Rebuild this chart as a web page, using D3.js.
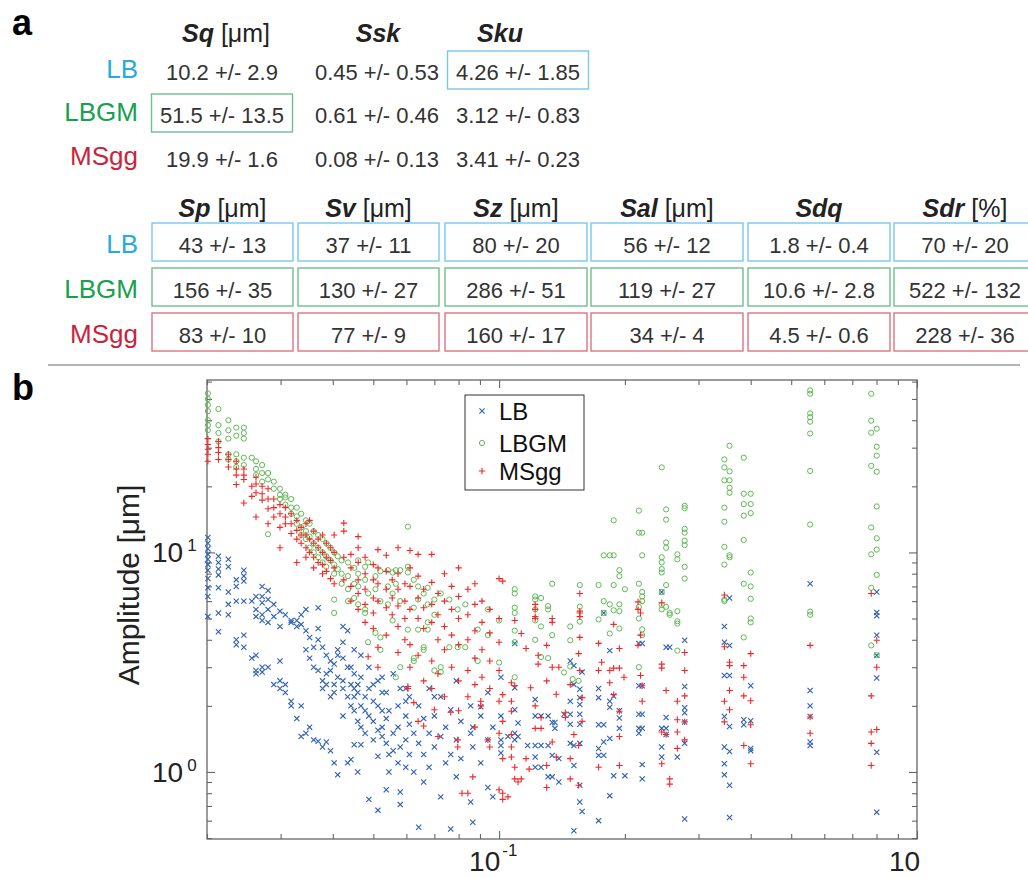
<!DOCTYPE html>
<html>
<head>
<meta charset="utf-8">
<script src="https://cdn.jsdelivr.net/npm/d3@7"></script>
<style>
body { margin: 0; background: #fff; }
text { font-family: "Liberation Sans", Arial, Helvetica, sans-serif; }
</style>
</head>
<body>
<svg id="fig" width="1028" height="878"></svg>
<script>
// ---- panel a : table values ----
var groups = ["LB", "LBGM", "MSgg"];
var topHeads = [["Sq", " [μm]"], ["Ssk", ""], ["Sku", ""]];
var topVals = [
    ["10.2 +/- 2.9", "0.45 +/- 0.53", "4.26 +/- 1.85"],
    ["51.5 +/- 13.5", "0.61 +/- 0.46", "3.12 +/- 0.83"],
    ["19.9 +/- 1.6", "0.08 +/- 0.13", "3.41 +/- 0.23"]
];
var topBoxed = [[0, 0, 1], [1, 0, 0], [0, 0, 0]];
var botHeads = [["Sp", " [μm]"], ["Sv", " [μm]"], ["Sz", " [μm]"], ["Sal", " [μm]"], ["Sdq", ""], ["Sdr", " [%]"]];
var botVals = [
    ["43 +/- 13", "37 +/- 11", "80 +/- 20", "56 +/- 12", "1.8 +/- 0.4", "70 +/- 20"],
    ["156 +/- 35", "130 +/- 27", "286 +/- 51", "119 +/- 27", "10.6 +/- 2.8", "522 +/- 132"],
    ["83 +/- 10", "77 +/- 9", "160 +/- 17", "34 +/- 4", "4.5 +/- 0.6", "228 +/- 36"]
];

// ---- panel b : amplitude spectra, [frequency, [amplitudes...]] ----
var lbCols = [
    [0.0201, [11.7, 11.0, 10.4, 9.8, 9.3, 8.8, 8.3, 7.6, 6.9, 6.3, 5.1]],
    [0.0213, [9.6, 9.0, 8.4, 7.9, 6.9, 5.3, 4.35]],
    [0.0225, [9.3, 8.6, 6.6, 5.8, 5.2]],
    [0.0235, [7.5, 7.0, 6.0, 4.0, 3.8]],
    [0.0245, [8.3, 7.8, 7.4, 6.0, 4.2, 3.7]],
    [0.0256, [6.0, 3.3]],
    [0.0262, [6.3, 5.5, 5.1, 3.4, 2.9, 2.8]],
    [0.0271, [7.0, 6.3, 5.9, 5.2, 4.9, 3.0, 2.85]],
    [0.0280, [6.7, 6.1, 5.5, 4.8, 3.0]],
    [0.0289, [5.8, 5.1, 2.5]],
    [0.0299, [5.4, 4.6, 3.2, 2.6, 2.4]],
    [0.0308, [5.2, 2.5, 2.3]],
    [0.0318, [4.9, 4.8, 2.1, 2.0]],
    [0.0328, [4.9, 4.6, 1.75]],
    [0.0336, [5.2, 4.7, 2.0, 1.45]],
    [0.0345, [5.5, 4.4, 3.6, 1.5]],
    [0.0352, [4.1, 3.3, 1.6]],
    [0.0360, [3.7, 3.0, 1.4]],
    [0.0369, [5.6, 4.5, 4.0, 2.9, 1.38]],
    [0.0378, [3.7, 2.6, 2.4, 1.3]],
    [0.0386, [3.4, 2.8, 2.5, 1.37]],
    [0.0395, [3.2, 2.9, 2.2, 1.25]],
    [0.0403, [3.1, 2.5, 2.3, 1.1]],
    [0.0411, [3.6, 3.4, 2.7, 0.97]],
    [0.0423, [4.6, 3.9, 3.3, 2.6, 2.4, 1.8]],
    [0.0434, [4.4, 3.0, 2.2, 1.1]],
    [0.0442, [3.0, 2.5, 2.0, 1.14]],
    [0.0450, [3.6, 2.8, 2.4, 2.2, 1.9, 1.33]],
    [0.0459, [2.5, 2.3, 1.7, 1.0]],
    [0.0467, [3.4, 2.7, 2.0, 1.6, 1.33]],
    [0.0478, [2.2, 1.9, 1.5]],
    [0.0488, [3.0, 2.4, 1.8, 0.75]],
    [0.0500, [2.5, 2.1, 1.7, 1.4]],
    [0.0513, [2.6, 2.0, 1.55, 1.18, 0.67]],
    [0.0525, [2.7, 2.3, 1.9, 1.6, 1.45]],
    [0.0537, [2.3, 1.75, 1.35, 0.83]],
    [0.0545, [1.9, 1.2, 1.0]],
    [0.0558, [2.8, 1.5, 1.25]],
    [0.0573, [2.0, 1.6, 1.1]],
    [0.0580, [2.4, 1.3, 0.81, 0.71]],
    [0.0598, [2.4, 2.1, 1.8, 1.4, 1.05]],
    [0.0610, [2.2, 1.65, 1.2]],
    [0.0625, [1.5, 1.0]],
    [0.0642, [2.0, 1.35, 0.56]],
    [0.0660, [1.75, 1.2, 0.9]],
    [0.0680, [2.4, 1.5, 1.05]],
    [0.0700, [2.2, 1.8, 1.3]],
    [0.0725, [2.2, 1.45, 0.77]],
    [0.0745, [1.6, 1.1]],
    [0.0766, [1.92, 1.2, 0.55]],
    [0.0790, [2.6, 1.4, 0.95]],
    [0.0810, [1.7, 1.15]],
    [0.0855, [2.0, 1.5, 0.73]],
    [0.0865, [1.6, 1.3, 0.59]],
    [0.0904, [1.98, 1.8, 1.1]],
    [0.0940, [2.3, 1.4, 0.85]],
    [0.0966, [1.6, 0.77]],
    [0.1010, [2.7, 1.8, 1.4, 1.32, 1.22]],
    [0.1050, [1.45]],
    [0.1090, [3.85, 2.42, 1.92, 1.5, 1.40]],
    [0.1110, [1.67, 1.45]],
    [0.1170, [1.32]],
    [0.1220, [2.14, 1.8, 1.32, 1.17, 1.05]],
    [0.1260, [1.8, 1.32, 1.05]],
    [0.1310, [1.8, 1.32, 0.95]],
    [0.1340, [1.68, 1.19, 0.95]],
    [0.1360, [1.68, 1.58]],
    [0.1390, [1.15, 0.90]],
    [0.1430, [1.83]],
    [0.1480, [3.2, 2.1, 1.83, 1.65, 1.35]],
    [0.1510, [3.05, 2.5, 1.32, 1.07, 0.54]],
    [0.1560, [2.38, 2.18, 2.03, 1.83, 1.65, 1.35, 0.87, 0.73]],
    [0.1580, [2.85, 0.66]],
    [0.1730, [2.4, 2.18, 1.64, 1.28, 1.19, 0.60]],
    [0.1780, [5.3, 1.64, 1.37, 1.19]],
    [0.1840, [3.57, 2.1, 1.97, 1.42, 0.78]],
    [0.1880, [2.22, 0.96]],
    [0.1940, [1.9, 1.76, 1.58]],
    [0.2000, [0.96]],
    [0.2160, [3.85, 2.47, 1.83, 1.58, 1.50]],
    [0.2200, [3.85, 2.47, 1.83, 1.58, 1.08, 0.93]],
    [0.2450, [6.6, 1.58, 1.30, 1.17]],
    [0.2510, [3.7, 1.77, 1.58, 1.48]],
    [0.2560, [3.7]],
    [0.2670, [1.17]],
    [0.2780, [3.98, 2.45, 1.96, 1.86, 1.69, 1.35, 0.61]],
    [0.3460, [4.6, 3.9, 2.75, 1.79, 1.30, 1.09, 0.97]],
    [0.3560, [6.2, 3.77, 2.75, 1.61, 1.24, 0.87, 0.62]],
    [0.3850, [1.73, 1.64]],
    [0.4000, [2.47, 1.71, 1.28, 1.25]],
    [0.5550, [7.2, 2.35, 2.0, 1.79, 1.37, 1.32]],
    [0.8010, [6.6, 5.33, 5.15, 4.2, 3.4, 2.68, 1.23, 0.656]]
];
var lbgmCols = [
    [0.0201, [53, 50, 47, 44, 40, 38, 36]],
    [0.0213, [45, 38, 35, 32]],
    [0.0225, [40, 36, 33, 28, 26.5]],
    [0.0235, [37, 34, 28, 26, 24.5]],
    [0.0245, [37, 35, 33, 27, 25]],
    [0.0256, [27]],
    [0.0262, [26, 24, 22.5]],
    [0.0271, [25, 23, 21]],
    [0.0280, [23, 21.5, 12.1]],
    [0.0289, [21, 19.5]],
    [0.0299, [19.5, 18.3, 17.5]],
    [0.0308, [18.3, 17.8, 16.5]],
    [0.0318, [17.5, 16, 15]],
    [0.0328, [16, 14.6, 13.5]],
    [0.0336, [15, 13, 12]],
    [0.0345, [14, 12.5, 11.5]],
    [0.0352, [13.5, 11.8, 10.5]],
    [0.0360, [12.5, 11, 10]],
    [0.0369, [12, 10.5, 9.5]],
    [0.0378, [11.5, 10, 9.0]],
    [0.0386, [11, 9.6, 8.6]],
    [0.0395, [10.5, 9.2]],
    [0.0403, [10, 8.8, 8.0, 6.1, 5.3]],
    [0.0411, [9.6, 8.4]],
    [0.0420, [9.2, 8.0, 7.2]],
    [0.0435, [9.0, 7.8, 6.8, 6.0]],
    [0.0450, [8.5, 7.2, 6.2]],
    [0.0460, [9.2, 8.0, 7.0, 5.8]],
    [0.0478, [8.6, 7.5, 5.5, 5.3]],
    [0.0486, [9.0, 6.5, 3.9]],
    [0.0506, [7.8, 6.8, 4.3]],
    [0.0520, [8.2, 6.0, 4.1, 3.6]],
    [0.0542, [8.3, 7.0, 5.8]],
    [0.0556, [8.1, 6.5, 4.9]],
    [0.0566, [8.3, 7.2, 2.7]],
    [0.0580, [8.3, 6.0, 3.0]],
    [0.0605, [13.1, 8.6, 8.1, 4.45]],
    [0.0625, [7.5, 5.6, 3.3, 3.2]],
    [0.0640, [7.0, 6.1, 4.45]],
    [0.0660, [6.5, 3.7, 3.6]],
    [0.0675, [6.9, 5.8, 4.8, 4.45]],
    [0.0700, [6.1, 5.2, 2.9]],
    [0.0725, [6.5, 3.0, 2.85]],
    [0.0760, [6.1, 3.7]],
    [0.0796, [5.5, 3.7]],
    [0.0830, [5.8, 3.7]],
    [0.0889, [4.45, 3.2]],
    [0.0940, [5.5, 4.2]],
    [0.1000, [4.9, 3.15]],
    [0.1090, [6.8, 6.5, 5.6, 5.3, 4.4, 3.9, 2.7]],
    [0.1220, [6.3, 6.1, 5.5, 4.9, 4.0]],
    [0.1260, [6.2, 4.6, 3.34]],
    [0.1310, [5.7, 5.5, 3.3]],
    [0.1340, [7.2, 4.2]],
    [0.1430, [2.84]],
    [0.1480, [4.6, 3.98, 3.02]],
    [0.1500, [2.65]],
    [0.1550, [2.6]],
    [0.1560, [7.1, 5.66, 4.84]],
    [0.1730, [7.1, 4.95]],
    [0.1780, [9.7, 6.0, 5.3]],
    [0.1840, [9.7, 5.8, 4.27]],
    [0.1880, [14.0, 9.7, 7.1, 5.45]],
    [0.1940, [8.3, 7.8, 5.8, 5.4, 4.5]],
    [0.2000, [6.8]],
    [0.2160, [15.5, 12.3, 7.2, 5.65, 5.0, 3.0]],
    [0.2200, [12.3, 9.7, 6.6, 6.3, 6.0, 4.46, 4.2]],
    [0.2450, [24.4, 9.5, 9.0, 8.4, 8.1, 6.6, 5.77, 5.5]],
    [0.2510, [15.7, 14.1, 11.1, 10.5, 7.1, 5.65]],
    [0.2560, [5.3, 5.2]],
    [0.2670, [9.8, 9.3, 5.4, 4.86, 4.74, 3.57]],
    [0.2780, [16.3, 15.9, 12.8, 12.3, 11.3, 10.8, 8.6, 7.6]],
    [0.3460, [26.5, 24.4, 21.3, 16, 13.8, 10.6, 8.8, 6.1, 6.0]],
    [0.3560, [30.6, 23.4, 21.3, 19.7, 18.7, 9.7, 9.5]],
    [0.3850, [27, 18.5, 16.6, 14.7, 11.4, 7.2, 4.1]],
    [0.4000, [18.5, 16.6, 15.1, 8.1, 7.0, 6.15, 5.0, 4.8]],
    [0.5550, [54.7, 52.8, 43, 41.3, 39.4, 34.8, 23.5, 13.4, 5.37, 5.2]],
    [0.7770, [52.8, 39.8, 35.1, 24.8, 13, 9.8, 6.9, 3.77]],
    [0.8010, [36.6, 30.3, 27.6, 23.3, 16.2, 11.6, 10.3, 7.9, 3.4]]
];
var msggCols = [
    [0.0201, [33, 31, 29.5, 28, 26]],
    [0.0213, [32, 30, 28.5, 26.5]],
    [0.0225, [28, 26.5, 24.5]],
    [0.0235, [26, 24, 22.5, 20.4]],
    [0.0245, [24, 22.5, 21.5, 16.8]],
    [0.0256, [20, 18]],
    [0.0262, [22, 20.5, 18.7, 14.5]],
    [0.0271, [20, 18.5, 17.3]],
    [0.0280, [19.5, 17.5, 15.8, 13.5]],
    [0.0289, [17.5, 16, 14.5]],
    [0.0299, [16.5, 15, 13, 10.5]],
    [0.0308, [16, 14.5, 13.5]],
    [0.0318, [15, 13.5, 12.2]],
    [0.0328, [14, 12.6, 11.5, 9.0]],
    [0.0336, [13, 12, 11]],
    [0.0345, [13.5, 12, 10.5, 9.5]],
    [0.0352, [14, 11.5, 10]],
    [0.0360, [12.5, 11, 9.5, 8.5]],
    [0.0369, [11.5, 10.5, 9]],
    [0.0378, [12, 10, 8.8, 8.0]],
    [0.0386, [11, 9.5, 8.2]],
    [0.0395, [10.5, 9.2, 7.6]],
    [0.0403, [12, 10, 8.5, 7.2]],
    [0.0425, [13.6, 12.5, 9.5, 7.5]],
    [0.0442, [9.8, 8.5, 7.0, 6.0]],
    [0.0460, [11.8, 10.5, 9, 7.5, 6.5, 5.5]],
    [0.0478, [9.5, 8, 6.8, 5.8, 4.8]],
    [0.0486, [3.35]],
    [0.0500, [8.8, 7.5, 6.2, 5.3, 4.5]],
    [0.0513, [10.3, 8.5, 7.2, 6.0, 3.7, 3.0]],
    [0.0537, [9.7, 8.2, 6.8, 5.6, 4.2]],
    [0.0555, [7.5, 6.2, 5.2]],
    [0.0573, [10.5, 8.0, 6.8, 5.7, 4.6, 3.5]],
    [0.0595, [7.2, 6.0, 5.0, 4.0]],
    [0.0605, [2.45, 2.4]],
    [0.0612, [10.2, 8.5, 7.0, 5.5, 3.8, 3.0]],
    [0.0625, [2.07]],
    [0.0640, [9.8, 7.8, 6.2, 5.0, 3.4, 1.7]],
    [0.0660, [6.8, 5.6, 4.5, 2.6, 1.62]],
    [0.0690, [9.8, 7.3, 5.8, 4.8, 3.2, 2.4]],
    [0.0700, [1.92]],
    [0.0714, [6.5, 5.2, 4.0, 2.8, 1.45]],
    [0.0740, [8.0, 6.0, 4.6, 3.6, 2.2]],
    [0.0766, [1.87]],
    [0.0770, [7.0, 5.5, 4.2, 3.0]],
    [0.0796, [1.4, 1.3]],
    [0.0800, [8.5, 6.3, 5.0, 3.8, 2.6, 1.9]],
    [0.0815, [0.80]],
    [0.0842, [6.8, 5.2, 4.0, 2.9, 2.2, 0.80]],
    [0.0865, [0.95]],
    [0.0875, [7.2, 5.8, 4.4, 3.3, 2.5, 1.6]],
    [0.0904, [2.1, 2.0]],
    [0.0910, [6.0, 4.8, 3.6, 2.7]],
    [0.0940, [1.4]],
    [0.0950, [5.5, 4.3, 3.2, 2.4, 1.3]],
    [0.1000, [7.6, 5.0, 3.9, 2.9, 2.1, 1.5, 0.83]],
    [0.1020, [7.4, 2.25, 1.7, 1.15, 0.8, 0.75]],
    [0.1050, [0.77]],
    [0.1070, [2.55, 2.1, 1.89, 1.48, 1.30, 1.17]],
    [0.1090, [4.9, 2.47, 1.05, 0.93]],
    [0.1110, [0.90]],
    [0.1130, [4.27, 0.93]],
    [0.1160, [3.65, 1.15]],
    [0.1180, [1.03]],
    [0.1190, [2.42]],
    [0.1220, [5.8, 5.5, 5.1, 5.0, 2.0, 1.58]],
    [0.1240, [3.4, 3.1]],
    [0.1260, [1.77, 1.58]],
    [0.1300, [3.77, 2.6, 1.07, 0.85]],
    [0.1340, [5.0, 4.8, 3.0, 1.37]],
    [0.1370, [2.26, 1.17]],
    [0.1390, [3.0]],
    [0.1440, [1.86, 1.77]],
    [0.1480, [2.5, 1.15, 0.93]],
    [0.1510, [1.48]],
    [0.1550, [3.46, 1.32, 0.87]],
    [0.1560, [6.5, 5.4, 5.3, 5.1, 4.1, 2.9]],
    [0.1580, [2.18, 1.70]],
    [0.1730, [3.85, 2.9, 1.05]],
    [0.1760, [3.16]],
    [0.1840, [2.9, 2.55]],
    [0.1880, [4.7, 2.97, 2.25]],
    [0.1940, [3.65, 2.97, 1.89, 1.45, 1.07]],
    [0.1990, [2.7]],
    [0.2150, [5.95, 5.5, 3.77]],
    [0.2180, [5.3, 4.2, 2.75]],
    [0.2200, [2.47, 2.1]],
    [0.2450, [5.9, 3.1, 2.97, 1.52, 1.09]],
    [0.2510, [2.35, 1.48]],
    [0.2560, [0.93, 0.88]],
    [0.2670, [2.1, 1.73, 1.52, 1.28]],
    [0.2780, [3.5, 2.9, 2.22, 1.69, 1.40]],
    [0.3460, [6.4, 3.72, 2.1, 1.69]],
    [0.3560, [3.16, 3.05, 2.35, 1.92]],
    [0.3850, [3.05, 2.7, 2.22, 1.32]],
    [0.4000, [3.46, 2.11, 1.64, 1.09]],
    [0.5550, [3.77, 1.78, 1.50]],
    [0.7770, [6.5, 2.22, 1.52, 1.35, 1.07]],
    [0.8010, [3.98, 3.0, 1.56]]
];
var xMajor = [0.1, 1];
var xMinor = [0.02, 0.03, 0.04, 0.05, 0.06, 0.07, 0.08, 0.09, 0.2, 0.3, 0.4, 0.5, 0.6, 0.7, 0.8, 0.9];
var yMajor = [1, 10];
var yMinor = [0.5, 0.6, 0.7, 0.8, 0.9, 2, 3, 4, 5, 6, 7, 8, 9, 20, 30, 40, 50, 60];
var xLabels = [["10", "-1"], ["10", ""]];
var yLabels = [["10", "0"], ["10", "1"]];

var labelColors = ["#27a9e1", "#17a04e", "#c8243c"];
var boxColors = ["#78c8ec", "#6fbe8e", "#dc7480"];
var txt = "#333";

var svg = d3.select("#fig");
svg.append("rect").attr("width", 1028).attr("height", 878).attr("fill", "#fff");

// panel letters
svg.append("text").attr("x", 12).attr("y", 35).attr("font-size", 36).attr("font-weight", "bold").text("a");
svg.append("text").attr("x", 12).attr("y", 400).attr("font-size", 36).attr("font-weight", "bold").text("b");

function header(g, x, y, h) {
    var t = g.append("text").attr("x", x).attr("y", y).attr("text-anchor", "middle")
        .attr("font-size", 25).attr("fill", "#222");
    t.append("tspan").attr("font-weight", "bold").attr("font-style", "italic").text(h[0]);
    if (h[1]) t.append("tspan").text(h[1]);
}

// ---- top table ----
var topT = svg.append("g");
var topColX = [222, 377, 518], topHeadX = [226, 378, 500];
var topRowY = [80, 123, 167];
topHeads.forEach(function (h, j) { header(topT, topHeadX[j], 42, h); });
groups.forEach(function (gname, i) {
    topT.append("text").attr("x", 138).attr("y", topRowY[i] - 2).attr("text-anchor", "end")
        .attr("font-size", 26).attr("fill", labelColors[i]).text(gname);
    topVals[i].forEach(function (v, j) {
        if (topBoxed[i][j]) {
            topT.append("rect").attr("x", topColX[j] - 70.5).attr("y", topRowY[i] - 29)
                .attr("width", 141).attr("height", 38).attr("fill", "none")
                .attr("stroke", boxColors[i]).attr("stroke-width", 1.4);
        }
        topT.append("text").attr("x", topColX[j]).attr("y", topRowY[i]).attr("text-anchor", "middle")
            .attr("font-size", 22).attr("fill", txt).text(v);
    });
});

// ---- bottom table ----
var botT = svg.append("g");
var boxL = [152, 298, 445, 591, 748, 894], boxW = [141, 141, 142, 152, 142, 142];
var rowTop = [223, 268, 313];
botHeads.forEach(function (h, j) { header(botT, boxL[j] + boxW[j] / 2, 217, h); });
groups.forEach(function (gname, i) {
    botT.append("text").attr("x", 138).attr("y", rowTop[i] + 30).attr("text-anchor", "end")
        .attr("font-size", 26).attr("fill", labelColors[i]).text(gname);
    botVals[i].forEach(function (v, j) {
        botT.append("rect").attr("x", boxL[j]).attr("y", rowTop[i])
            .attr("width", boxW[j]).attr("height", 38).attr("fill", "none")
            .attr("stroke", boxColors[i]).attr("stroke-width", 1.4);
        botT.append("text").attr("x", boxL[j] + boxW[j] / 2).attr("y", rowTop[i] + 30)
            .attr("text-anchor", "middle").attr("font-size", 22).attr("fill", txt).text(v);
    });
});

svg.append("line").attr("x1", 48).attr("x2", 1020).attr("y1", 365).attr("y2", 365)
    .attr("stroke", "#9a9a9a").attr("stroke-width", 1.5);

// ---- panel b ----
var x = d3.scaleLog().domain([0.02, 1]).range([207, 917]);
var y = d3.scaleLog().domain([0.495, 61]).range([839, 380]);
var plot = svg.append("g");

function tickAxis(axis, vals, size, tr) {
    var g = plot.append("g").attr("transform", tr)
        .call(axis.tickValues(vals).tickSize(-size).tickFormat(""));
    g.select(".domain").remove();
    g.selectAll("line").attr("stroke", "#666").attr("stroke-width", 1.1);
}
tickAxis(d3.axisBottom(x), xMajor, 8, "translate(0,839)");
tickAxis(d3.axisBottom(x), xMinor, 5, "translate(0,839)");
tickAxis(d3.axisTop(x), xMajor, 8, "translate(0,380)");
tickAxis(d3.axisTop(x), xMinor, 5, "translate(0,380)");
tickAxis(d3.axisLeft(y), yMajor, 8, "translate(207,0)");
tickAxis(d3.axisLeft(y), yMinor, 5, "translate(207,0)");
tickAxis(d3.axisRight(y), yMajor, 8, "translate(917,0)");
tickAxis(d3.axisRight(y), yMinor, 5, "translate(917,0)");

plot.append("rect").attr("x", 207).attr("y", 380).attr("width", 710).attr("height", 459)
    .attr("fill", "none").attr("stroke", "#666").attr("stroke-width", 1.3);

// tick labels 10^n
yMajor.forEach(function (v, i) {
    var t = plot.append("text").attr("x", 152).attr("y", y(v) + 10).attr("font-size", 28).attr("fill", "#222");
    t.append("tspan").text(yLabels[i][0]);
    t.append("tspan").attr("dx", 4).attr("dy", -11).attr("font-size", 17).text(yLabels[i][1]);
});
xMajor.forEach(function (v, i) {
    var t = plot.append("text").attr("x", x(v) - (i === 0 ? 30 : 28)).attr("y", 871)
        .attr("font-size", 28).attr("fill", "#222");
    t.append("tspan").text(xLabels[i][0]);
    if (xLabels[i][1]) t.append("tspan").attr("dx", 2).attr("dy", -15).attr("font-size", 17).text(xLabels[i][1]);
});
plot.append("text").attr("transform", "translate(139,585) rotate(-90)").attr("text-anchor", "middle")
    .attr("font-size", 30).attr("fill", "#222").text("Amplitude [μm]");

// markers
var markX = "M-2.6,-2.6L2.6,2.6M-2.6,2.6L2.6,-2.6";
var markP = "M-3.2,0L3.2,0M0,-3.2L0,3.2";
function pts(cols) {
    return cols.flatMap(function (c) { return c[1].map(function (v) { return [c[0], v]; }); });
}
var series = [
    { name: "LB", pts: pts(lbCols), color: "#2e5fb4", kind: "x" },
    { name: "LBGM", pts: pts(lbgmCols), color: "#5fba55", kind: "o" },
    { name: "MSgg", pts: pts(msggCols), color: "#f02828", kind: "+" }
];
function drawMark(sel, s) {
    if (s.kind === "o") {
        sel.append("circle").attr("r", 2.6).attr("fill", "none").attr("stroke", s.color).attr("stroke-width", 1);
    } else {
        sel.append("path").attr("d", s.kind === "x" ? markX : markP).attr("fill", "none")
            .attr("stroke", s.color).attr("stroke-width", 1.1);
    }
}
series.forEach(function (s) {
    plot.append("g").selectAll("g").data(s.pts).enter().append("g")
        .attr("transform", function (d) { return "translate(" + x(d[0]) + "," + y(d[1]) + ")"; })
        .each(function () { drawMark(d3.select(this), s); });
});

// legend
var leg = plot.append("g");
leg.append("rect").attr("x", 465).attr("y", 395).attr("width", 119).attr("height", 95)
    .attr("fill", "#fff").attr("stroke", "#333").attr("stroke-width", 1);
var legY = [420, 452, 480];
series.forEach(function (s, i) {
    drawMark(leg.append("g").attr("transform", "translate(482," + (legY[i] - 9) + ")"), s);
    leg.append("text").attr("x", 499).attr("y", legY[i]).attr("font-size", 24).attr("fill", "#111").text(s.name);
});
</script>
</body>
</html>
